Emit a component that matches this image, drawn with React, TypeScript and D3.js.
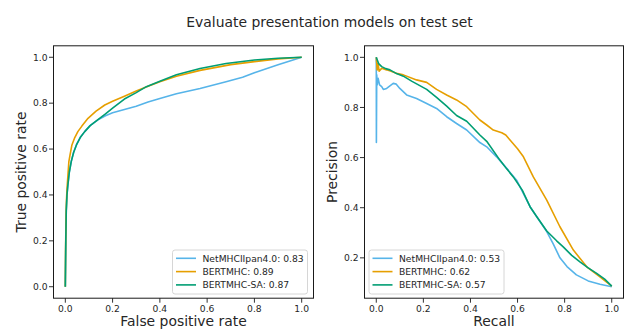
import React from "react";
import * as d3 from "d3";

const title = "Evaluate presentation models on test set";
const models = ["NetMHCIIpan4.0", "BERTMHC", "BERTMHC-SA"];
const colors = ["#56B4E9", "#E69F00", "#009E73"];
const rocAuc = ["0.83", "0.89", "0.87"];
const prAuc = ["0.53", "0.62", "0.57"];
const ticks = [0, 0.2, 0.4, 0.6, 0.8, 1.0];
const prTicksY = [0.2, 0.4, 0.6, 0.8, 1.0];

// ROC curves: [fpr, tpr]
const rocNet: [number, number][] = [
  [0, 0], [0.001, 0.1], [0.002, 0.2], [0.004, 0.33], [0.007, 0.4], [0.011, 0.445],
  [0.017, 0.5], [0.025, 0.545], [0.035, 0.585], [0.047, 0.618], [0.063, 0.65],
  [0.082, 0.676], [0.105, 0.702], [0.138, 0.727], [0.17, 0.745], [0.2, 0.758],
  [0.25, 0.772], [0.3, 0.787], [0.35, 0.805], [0.4, 0.82], [0.47, 0.841],
  [0.57, 0.864], [0.68, 0.893], [0.75, 0.913], [0.8, 0.933], [0.9, 0.967], [1, 1],
];
const rocBert: [number, number][] = [
  [0, 0], [0.001, 0.15], [0.003, 0.3], [0.005, 0.38], [0.008, 0.44], [0.015, 0.545],
  [0.02, 0.575], [0.028, 0.618], [0.04, 0.65], [0.053, 0.676], [0.07, 0.7],
  [0.096, 0.734], [0.13, 0.765], [0.167, 0.792], [0.2, 0.808], [0.25, 0.83],
  [0.3, 0.853], [0.35, 0.874], [0.4, 0.893], [0.47, 0.917], [0.57, 0.943],
  [0.7, 0.968], [0.8, 0.981], [0.9, 0.993], [1, 1],
];
const rocSa: [number, number][] = [
  [0, 0], [0.001, 0.1], [0.002, 0.2], [0.004, 0.33], [0.007, 0.4], [0.011, 0.445],
  [0.017, 0.5], [0.025, 0.545], [0.035, 0.585], [0.047, 0.618], [0.063, 0.65],
  [0.082, 0.676], [0.105, 0.702], [0.138, 0.728], [0.17, 0.753], [0.2, 0.778],
  [0.25, 0.818], [0.3, 0.846], [0.343, 0.872], [0.4, 0.895], [0.47, 0.924],
  [0.57, 0.951], [0.68, 0.973], [0.8, 0.988], [0.9, 0.996], [1, 1],
];

// PR curves: [recall, precision]
const prNet: [number, number][] = [
  [0, 1.0], [0.0005, 0.66], [0.002, 0.93], [0.004, 0.89], [0.008, 0.916],
  [0.014, 0.89], [0.023, 0.883], [0.03, 0.872], [0.044, 0.876], [0.058, 0.886],
  [0.072, 0.896], [0.085, 0.893], [0.1, 0.876], [0.129, 0.85], [0.171, 0.836],
  [0.214, 0.816], [0.256, 0.796], [0.299, 0.763], [0.341, 0.736], [0.384, 0.71],
  [0.44, 0.66], [0.469, 0.643], [0.511, 0.603], [0.554, 0.557], [0.596, 0.51],
  [0.653, 0.404], [0.681, 0.365], [0.724, 0.305], [0.752, 0.255], [0.78, 0.2],
  [0.81, 0.165], [0.85, 0.132], [0.9, 0.108], [0.95, 0.095], [1, 0.085],
];
const prBert: [number, number][] = [
  [0, 1.0], [0.004, 0.95], [0.008, 0.975], [0.012, 0.945], [0.023, 0.956],
  [0.044, 0.95], [0.06, 0.945], [0.086, 0.936], [0.115, 0.93], [0.171, 0.91],
  [0.214, 0.9], [0.256, 0.872], [0.299, 0.85], [0.341, 0.83], [0.384, 0.803],
  [0.44, 0.75], [0.469, 0.73], [0.497, 0.71], [0.533, 0.699], [0.55, 0.69],
  [0.568, 0.67], [0.6, 0.635], [0.625, 0.603], [0.667, 0.523], [0.724, 0.43],
  [0.78, 0.324], [0.837, 0.231], [0.894, 0.164], [0.95, 0.124], [1, 0.087],
];
const prSa: [number, number][] = [
  [0, 1.0], [0.004, 0.99], [0.01, 0.975], [0.023, 0.963], [0.04, 0.955],
  [0.058, 0.95], [0.086, 0.935], [0.115, 0.925], [0.15, 0.905], [0.214, 0.872],
  [0.256, 0.84], [0.299, 0.805], [0.341, 0.768], [0.384, 0.745], [0.44, 0.69],
  [0.469, 0.665], [0.525, 0.59], [0.554, 0.555], [0.582, 0.523], [0.62, 0.47],
  [0.653, 0.404], [0.681, 0.365], [0.724, 0.307], [0.766, 0.268], [0.794, 0.244],
  [0.83, 0.21], [0.865, 0.184], [0.9, 0.16], [0.936, 0.138], [0.97, 0.115], [1, 0.087],
];

const W = 632;
const H = 329;
const top = 45.8;
const bottom = 298.2;
const font = "DejaVu Sans, sans-serif";
const textColor = "#262626";
const tickFont = 9.2;
const labelFont = 13.9;

type PanelProps = {
  left: number;
  right: number;
  series: [number, number][][];
  yDomain: [number, number];
  yTicks: number[];
  xLabel: string;
  yLabel: string;
  yLabelX: number;
  aucs: string[];
  legendSide: "left" | "right";
};

function Panel(p: PanelProps) {
  const x = d3.scaleLinear().domain([-0.05, 1.05]).range([p.left, p.right]);
  const y = d3.scaleLinear().domain(p.yDomain).range([bottom, top]);
  const line = d3
    .line<[number, number]>()
    .x((d) => x(d[0]))
    .y((d) => y(d[1]));

  const legW = 135;
  const legH = 44;
  const legX = p.legendSide === "right" ? p.right - 6 - legW : p.left + 4.5;
  const legY = 250;

  return (
    <g>
      {p.series.map((s, i) => (
        <path key={i} d={line(s) || ""} fill="none" stroke={colors[i]} strokeWidth={1.6} strokeLinejoin="round" />
      ))}
      <rect x={p.left} y={top} width={p.right - p.left} height={bottom - top} fill="none" stroke="#1a1a1a" strokeWidth={1} />
      {ticks.map((t) => (
        <g key={"x" + t}>
          <line x1={x(t)} x2={x(t)} y1={bottom} y2={bottom + 4.5} stroke="#1a1a1a" strokeWidth={0.9} />
          <text x={x(t)} y={311.7} textAnchor="middle" fontSize={tickFont} fill={textColor} fontFamily={font}>
            {t.toFixed(1)}
          </text>
        </g>
      ))}
      {p.yTicks.map((t) => (
        <g key={"y" + t}>
          <line x1={p.left - 4.5} x2={p.left} y1={y(t)} y2={y(t)} stroke="#1a1a1a" strokeWidth={0.9} />
          <text x={p.left - 6} y={y(t)} dy="0.36em" textAnchor="end" fontSize={tickFont} fill={textColor} fontFamily={font}>
            {t.toFixed(1)}
          </text>
        </g>
      ))}
      <text x={(p.left + p.right) / 2} y={326} textAnchor="middle" fontSize={labelFont} fill={textColor} fontFamily={font}>
        {p.xLabel}
      </text>
      <text
        transform={`translate(${p.yLabelX},${(top + bottom) / 2}) rotate(-90)`}
        textAnchor="middle"
        fontSize={labelFont}
        fill={textColor}
        fontFamily={font}
      >
        {p.yLabel}
      </text>
      <g transform={`translate(${legX},${legY})`}>
        <rect width={legW} height={legH} rx={2.5} fill="white" fillOpacity={0.8} stroke="#cccccc" strokeWidth={0.8} />
        {models.map((m, i) => (
          <g key={m} transform={`translate(0,${8.3 + i * 13.3})`}>
            <line x1={3.5} x2={23.5} y1={0} y2={0} stroke={colors[i]} strokeWidth={1.6} />
            <text x={30} y={0} dy="0.36em" fontSize={tickFont} fill={textColor} fontFamily={font}>
              {`${m}: ${p.aucs[i]}`}
            </text>
          </g>
        ))}
      </g>
    </g>
  );
}

export default function App() {
  return (
    <svg width={W} height={H} style={{ position: "absolute", left: 0, top: 0 }}>
      <rect width={W} height={H} fill="white" />
      <text x={329.5} y={27} textAnchor="middle" fontSize={labelFont} fill={textColor} fontFamily={font}>
        {title}
      </text>
      <Panel
        left={53.5}
        right={313.5}
        series={[rocNet, rocBert, rocSa]}
        yDomain={[-0.05, 1.05]}
        yTicks={ticks}
        xLabel="False positive rate"
        yLabel="True positive rate"
        yLabelX={26.3}
        aucs={rocAuc}
        legendSide="right"
      />
      <Panel
        left={364.5}
        right={623.5}
        series={[prNet, prBert, prSa]}
        yDomain={[0.039, 1.046]}
        yTicks={prTicksY}
        xLabel="Recall"
        yLabel="Precision"
        yLabelX={337}
        aucs={prAuc}
        legendSide="left"
      />
    </svg>
  );
}
